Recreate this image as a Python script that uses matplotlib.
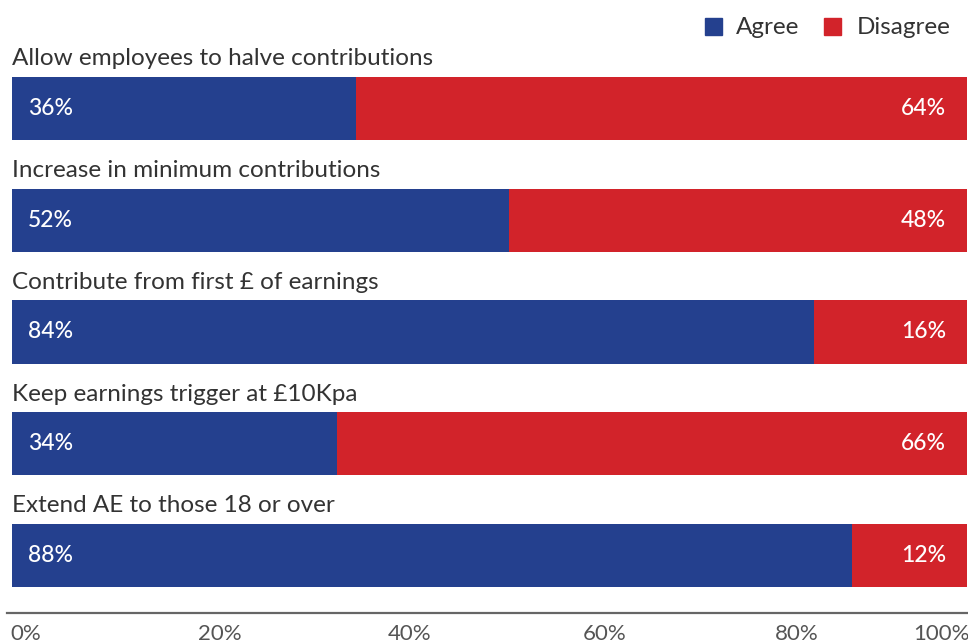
import matplotlib.pyplot as plt
from matplotlib.transforms import ScaledTranslation
from matplotlib.patches import Rectangle

# survey statements and agree / disagree shares (%)
questions = [
    "Allow employees to halve contributions",
    "Increase in minimum contributions",
    "Contribute from first £ of earnings",
    "Keep earnings trigger at £10Kpa",
    "Extend AE to those 18 or over",
]
agree = [36, 52, 84, 34, 88]
disagree = [64, 48, 16, 66, 12]
tick_values = [0, 20, 40, 60, 80, 100]
tick_labels = ["0%", "20%", "40%", "60%", "80%", "100%"]

BLUE = "#24408e"
RED = "#d2232a"
TXT = "#333333"

plt.rcParams["font.family"] = ["Lato", "DejaVu Sans"]

fig = plt.figure(figsize=(9.68, 6.43), dpi=100)
W, H = 968, 643
# axes from x=12..967 px, y=20..613 px (from top)
ax = fig.add_axes([12 / W, (H - 613) / H, 955 / W, (613 - 20) / H])

ys = list(range(len(questions)))
bh = 0.564
ax.barh(ys, agree, height=bh, color=BLUE)
ax.barh(ys, disagree, left=agree, height=bh, color=RED)

for i, q in enumerate(questions):
    ax.text(0, i - 0.385, q, fontsize=17.5, color=TXT,
            va="baseline", ha="left")
    ax.text(1.7, i, f"{agree[i]}%", fontsize=16.5, color="white",
            fontweight="medium", va="center", ha="left")
    ax.text(97.8, i, f"{disagree[i]}%", fontsize=16.5, color="white",
            fontweight="medium", va="center", ha="right")

ax.set_xlim(0, 100)
ax.set_ylim(4 + 57.5 / 111.75, -88.5 / 111.75)

for s in ["top", "right", "left"]:
    ax.spines[s].set_visible(False)
ax.spines["bottom"].set_color("#666666")
ax.spines["bottom"].set_linewidth(1.6)
ax.spines["bottom"].set_bounds(-0.5, 100.2)

ax.set_yticks([])
ax.set_xticks(tick_values)
ax.set_xticklabels(tick_labels, fontsize=16, color="#555555")
ax.tick_params(axis="x", length=0, pad=8)
# nudge tick labels (px); last one pulled back inside the frame
offsets = [14, 17, 16, 20, 21, -26]
for lab, off in zip(ax.get_xticklabels(), offsets):
    lab.set_transform(lab.get_transform() +
                      ScaledTranslation(off / 100, 0, fig.dpi_scale_trans))

# legend drawn in figure pixels
def fx(px):
    return px / W

def fy(py):
    return (H - py) / H

fig.patches.append(Rectangle((fx(705), fy(35)), 17 / W, 17 / H, color=BLUE,
                             transform=fig.transFigure))
fig.patches.append(Rectangle((fx(824), fy(35)), 17 / W, 17 / H, color=RED,
                             transform=fig.transFigure))
fig.text(fx(736), fy(27), "Agree", fontsize=17.5, color=TXT, va="center")
fig.text(fx(857), fy(27), "Disagree", fontsize=17.5, color=TXT, va="center")

fig.savefig("out.png", dpi=100)
